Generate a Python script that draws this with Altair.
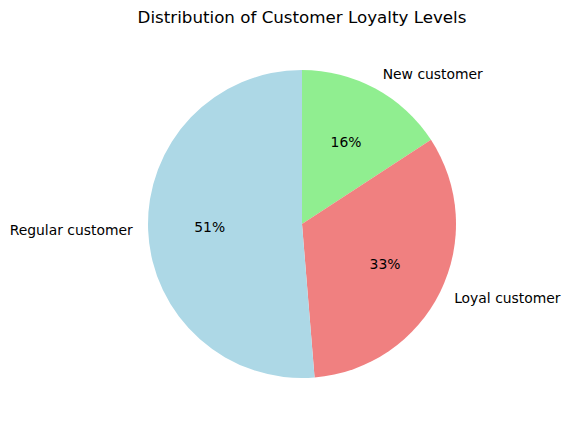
import altair as alt
import pandas as pd

categories = ["New customer", "Loyal customer", "Regular customer"]
values = [15.8, 32.9, 51.3]
colors = ["#90ee90", "#f08080", "#add8e6"]
order = [1, 2, 3]

df = pd.DataFrame({"category": categories, "value": values, "ord": order})

R = 154
base = alt.Chart(df).encode(
    theta=alt.Theta("value:Q", stack=True),
    order=alt.Order("ord:Q", sort="ascending"),
)

arcs = base.mark_arc(outerRadius=R, stroke=None).encode(
    color=alt.Color("category:N", scale=alt.Scale(domain=categories, range=colors), legend=None)
)

pct = base.mark_text(radius=R * 0.6, font="DejaVu Sans", fontSize=13.9, color="black",
                     baseline="middle", align="center").encode(
    text=alt.Text("pct:N")
).transform_calculate(pct="format(datum.value, '.0f') + '%'")

lab_left = base.mark_text(radius=R * 1.1, font="DejaVu Sans", fontSize=13.9, color="black",
                          baseline="middle", align="right").encode(
    text=alt.Text("lab:N")
).transform_calculate(lab="datum.category == 'Regular customer' ? datum.category : ''")

lab_right = base.mark_text(radius=R * 1.1, font="DejaVu Sans", fontSize=13.9, color="black",
                           baseline="middle", align="left").encode(
    text=alt.Text("lab:N")
).transform_calculate(lab="datum.category == 'Regular customer' ? '' : datum.category")

chart = alt.layer(arcs, pct, lab_left, lab_right).properties(
    width=538,
    height=406,
    autosize=alt.AutoSizeParams(type="none"),
    padding={"left": 33, "top": 21, "right": 0, "bottom": 0},
    title=alt.TitleParams(
        "Distribution of Customer Loyalty Levels",
        font="DejaVu Sans", fontSize=16.7, fontWeight="normal", color="black",
        anchor="middle", baseline="middle", offset=3, dy=17,
    ),
).configure_view(stroke=None).configure(background="white")

chart.save("out.html", embed_options={"renderer": "svg", "actions": False})
